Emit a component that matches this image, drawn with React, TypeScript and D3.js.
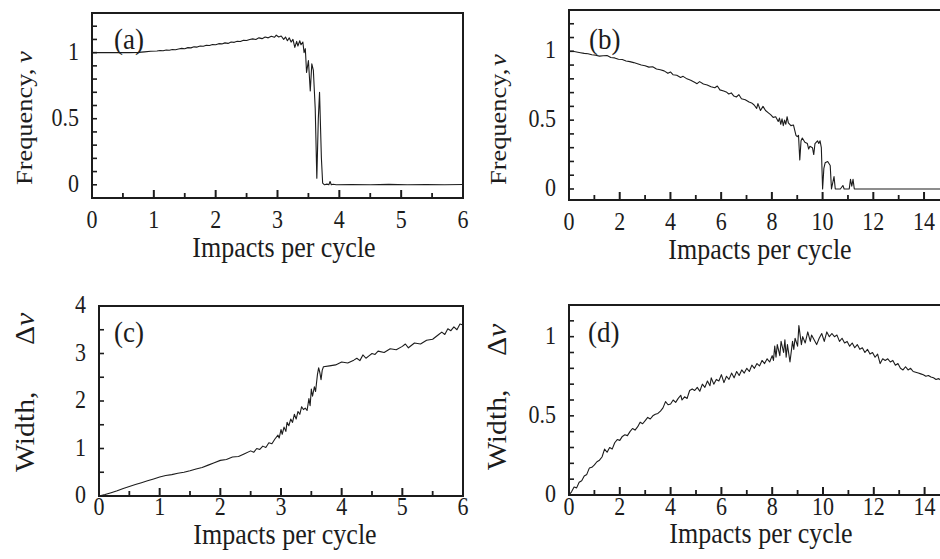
import React from 'react';
import * as d3 from 'd3';

type P = [number, number];

// Panel (a): frequency vs impacts per cycle (0..6)
const freqA: P[] = [
  [0, 1.0], [0.2, 1.0], [0.4, 1.0], [0.6, 1.0], [0.75, 1.002], [0.85, 1.006], [0.95, 1.01], [1.05, 1.012],
  [1.1, 1.016], [1.15, 1.014], [1.2, 1.02], [1.25, 1.018], [1.3, 1.024], [1.35, 1.022], [1.4, 1.028],
  [1.45, 1.032], [1.5, 1.03], [1.55, 1.038], [1.6, 1.036], [1.65, 1.044], [1.7, 1.042], [1.75, 1.05],
  [1.8, 1.048], [1.85, 1.056], [1.9, 1.054], [1.95, 1.062], [2.0, 1.06], [2.05, 1.068], [2.1, 1.066],
  [2.15, 1.074], [2.2, 1.07], [2.25, 1.08], [2.3, 1.078], [2.35, 1.086], [2.4, 1.084], [2.45, 1.094],
  [2.5, 1.092], [2.55, 1.1], [2.6, 1.104], [2.65, 1.1], [2.7, 1.112], [2.75, 1.106], [2.8, 1.118],
  [2.85, 1.112], [2.9, 1.124], [2.95, 1.116], [2.98, 1.132], [3.02, 1.118], [3.06, 1.126], [3.1, 1.1],
  [3.13, 1.118], [3.16, 1.09], [3.19, 1.112], [3.22, 1.08], [3.25, 1.1], [3.28, 1.04], [3.31, 1.085],
  [3.33, 1.05], [3.36, 1.09], [3.38, 1.06], [3.41, 1.08], [3.43, 1.0], [3.45, 1.03], [3.47, 0.85],
  [3.5, 0.94], [3.53, 0.71], [3.555, 0.915], [3.58, 0.865], [3.61, 0.577], [3.636, 0.05], [3.66, 0.5],
  [3.68, 0.7], [3.71, 0.2], [3.73, 0.013], [3.76, 0.0], [3.8, 0.005], [3.83, 0.0], [3.85, 0.025],
  [3.87, 0.0], [3.9, 0.004], [3.95, 0.0], [4.2, 0.002], [4.5, 0.0], [4.8, 0.003], [5.1, 0.0],
  [5.4, 0.002], [5.7, 0.0], [6.0, 0.002],
];

// Panel (b): frequency vs impacts per cycle (0..15)
const freqB: P[] = [
  [0, 1.0], [0.15, 1.0], [0.3, 0.995], [0.45, 0.99], [0.6, 0.985], [0.75, 0.982], [0.9, 0.975],
  [1.05, 0.972], [1.2, 0.965], [1.35, 0.968], [1.5, 0.97], [1.65, 0.955], [1.8, 0.952], [1.95, 0.942],
  [2.1, 0.94], [2.25, 0.93], [2.4, 0.925], [2.55, 0.918], [2.7, 0.91], [2.85, 0.9], [3.0, 0.895],
  [3.15, 0.885], [3.3, 0.888], [3.45, 0.872], [3.6, 0.866], [3.75, 0.858], [3.9, 0.84], [4.0, 0.85],
  [4.1, 0.83], [4.25, 0.826], [4.4, 0.81], [4.5, 0.818], [4.65, 0.8], [4.8, 0.79], [4.95, 0.775],
  [5.05, 0.765], [5.15, 0.78], [5.3, 0.762], [5.45, 0.755], [5.6, 0.742], [5.75, 0.735], [5.85, 0.748],
  [5.95, 0.72], [6.1, 0.712], [6.2, 0.705], [6.3, 0.69], [6.4, 0.698], [6.5, 0.675], [6.6, 0.668],
  [6.7, 0.685], [6.8, 0.655], [6.95, 0.648], [7.1, 0.632], [7.2, 0.625], [7.3, 0.61], [7.4, 0.585],
  [7.45, 0.62], [7.55, 0.57], [7.65, 0.6], [7.75, 0.57], [7.85, 0.555], [7.95, 0.54], [8.05, 0.52],
  [8.15, 0.525], [8.25, 0.49], [8.3, 0.515], [8.35, 0.47], [8.4, 0.51], [8.45, 0.46], [8.5, 0.5],
  [8.55, 0.47], [8.6, 0.525], [8.65, 0.48], [8.75, 0.46], [8.85, 0.465], [8.95, 0.39], [9.0, 0.38],
  [9.05, 0.39], [9.1, 0.21], [9.15, 0.35], [9.2, 0.37], [9.3, 0.34], [9.4, 0.33], [9.45, 0.29],
  [9.5, 0.31], [9.6, 0.3], [9.65, 0.25], [9.7, 0.33], [9.8, 0.35], [9.85, 0.33], [9.9, 0.35],
  [9.95, 0.3], [10.0, 0.0], [10.05, 0.15], [10.1, 0.19], [10.2, 0.2], [10.3, 0.17], [10.35, 0.0],
  [10.45, 0.09], [10.5, 0.0], [10.7, 0.0], [10.8, 0.025], [10.85, 0.0], [11.05, 0.0], [11.1, 0.07],
  [11.15, 0.02], [11.2, 0.07], [11.25, 0.0], [15.0, 0.0],
];

// Panel (c): width vs impacts per cycle (0..6)
const widthC: P[] = [
  [0, 0], [0.1, 0.03], [0.2, 0.07], [0.3, 0.11], [0.4, 0.16], [0.5, 0.2], [0.6, 0.24], [0.7, 0.28],
  [0.8, 0.32], [0.9, 0.36], [1.0, 0.4], [1.1, 0.43], [1.2, 0.45], [1.3, 0.48], [1.4, 0.5], [1.5, 0.53],
  [1.6, 0.57], [1.7, 0.6], [1.8, 0.65], [1.9, 0.7], [2.0, 0.75], [2.1, 0.77], [2.2, 0.82], [2.3, 0.83],
  [2.4, 0.89], [2.5, 0.95], [2.55, 0.92], [2.6, 1.0], [2.65, 0.98], [2.7, 1.05], [2.75, 1.02],
  [2.8, 1.12], [2.85, 1.1], [2.9, 1.2], [2.95, 1.28], [2.97, 1.22], [3.0, 1.4], [3.02, 1.3],
  [3.05, 1.45], [3.08, 1.36], [3.1, 1.55], [3.13, 1.48], [3.16, 1.62], [3.19, 1.55], [3.22, 1.72],
  [3.25, 1.62], [3.28, 1.78], [3.31, 1.72], [3.34, 1.88], [3.37, 1.82], [3.4, 1.85], [3.43, 1.8],
  [3.46, 2.05], [3.48, 1.9], [3.5, 2.25], [3.52, 2.1], [3.55, 2.3], [3.57, 2.2], [3.6, 2.55],
  [3.62, 2.7], [3.64, 2.6], [3.66, 2.45], [3.68, 2.65], [3.7, 2.72], [3.8, 2.74], [3.9, 2.76],
  [4.0, 2.82], [4.1, 2.8], [4.2, 2.86], [4.25, 2.9], [4.3, 2.85], [4.35, 2.97], [4.4, 2.9],
  [4.45, 2.95], [4.5, 3.0], [4.55, 2.98], [4.6, 3.05], [4.7, 3.02], [4.8, 3.1], [4.9, 3.08],
  [5.0, 3.15], [5.05, 3.2], [5.1, 3.12], [5.2, 3.22], [5.3, 3.2], [5.4, 3.28], [5.5, 3.3], [5.6, 3.4],
  [5.65, 3.45], [5.7, 3.4], [5.75, 3.52], [5.8, 3.48], [5.85, 3.56], [5.9, 3.5], [5.95, 3.62], [6.0, 3.6],
];

// Panel (d): width vs impacts per cycle (0..15)
const widthD: P[] = [
  [0, 0], [0.1, 0.02], [0.2, 0.05], [0.3, 0.045], [0.4, 0.08], [0.5, 0.09], [0.6, 0.12], [0.7, 0.13],
  [0.8, 0.17], [0.9, 0.175], [1.0, 0.19], [1.1, 0.21], [1.2, 0.22], [1.3, 0.24], [1.4, 0.29],
  [1.5, 0.27], [1.6, 0.3], [1.7, 0.29], [1.8, 0.33], [1.9, 0.35], [2.0, 0.345], [2.1, 0.37],
  [2.2, 0.38], [2.3, 0.375], [2.4, 0.4], [2.5, 0.42], [2.6, 0.41], [2.7, 0.43], [2.8, 0.46],
  [2.9, 0.45], [3.0, 0.47], [3.1, 0.49], [3.2, 0.48], [3.3, 0.5], [3.4, 0.51], [3.5, 0.515],
  [3.6, 0.53], [3.7, 0.55], [3.8, 0.59], [3.9, 0.57], [4.0, 0.575], [4.1, 0.6], [4.2, 0.585],
  [4.3, 0.61], [4.4, 0.63], [4.45, 0.6], [4.55, 0.62], [4.65, 0.61], [4.75, 0.66], [4.85, 0.67],
  [4.95, 0.66], [5.05, 0.68], [5.15, 0.655], [5.25, 0.7], [5.35, 0.68], [5.45, 0.72], [5.55, 0.69],
  [5.6, 0.74], [5.7, 0.7], [5.8, 0.73], [5.9, 0.72], [6.0, 0.76], [6.1, 0.71], [6.2, 0.75],
  [6.3, 0.73], [6.4, 0.77], [6.5, 0.74], [6.6, 0.78], [6.7, 0.755], [6.8, 0.79], [6.9, 0.77],
  [7.0, 0.8], [7.1, 0.78], [7.2, 0.82], [7.3, 0.8], [7.4, 0.83], [7.5, 0.815], [7.6, 0.85],
  [7.7, 0.83], [7.8, 0.86], [7.9, 0.84], [8.0, 0.88], [8.05, 0.85], [8.1, 0.94], [8.15, 0.87],
  [8.2, 0.95], [8.3, 0.88], [8.35, 0.97], [8.45, 0.9], [8.5, 0.98], [8.55, 0.87], [8.6, 0.95],
  [8.7, 0.84], [8.8, 0.97], [8.85, 0.92], [8.9, 0.99], [9.0, 0.94], [9.05, 1.07], [9.15, 0.95],
  [9.2, 1.0], [9.3, 0.96], [9.4, 1.03], [9.5, 0.97], [9.55, 1.01], [9.65, 0.98], [9.75, 0.95],
  [9.85, 0.99], [9.95, 1.02], [10.05, 0.97], [10.15, 1.03], [10.25, 1.0], [10.35, 1.02],
  [10.45, 1.0], [10.55, 1.01], [10.65, 0.97], [10.75, 0.99], [10.85, 0.96], [10.95, 0.97],
  [11.05, 0.94], [11.15, 0.96], [11.25, 0.93], [11.35, 0.95], [11.45, 0.92], [11.55, 0.93],
  [11.65, 0.9], [11.75, 0.92], [11.85, 0.89], [11.95, 0.9], [12.05, 0.87], [12.15, 0.89],
  [12.25, 0.83], [12.35, 0.86], [12.45, 0.85], [12.55, 0.86], [12.65, 0.84], [12.75, 0.85],
  [12.85, 0.82], [12.95, 0.83], [13.05, 0.8], [13.15, 0.79], [13.25, 0.81], [13.35, 0.79],
  [13.45, 0.8], [13.55, 0.78], [13.65, 0.775], [13.75, 0.77], [13.85, 0.765], [13.95, 0.76],
  [14.05, 0.75], [14.15, 0.755], [14.25, 0.745], [14.35, 0.74], [14.45, 0.73], [14.55, 0.735],
  [14.65, 0.725], [14.8, 0.73],
];

// Tick values
const xMajor6 = [0, 1, 2, 3, 4, 5, 6];
const xMinor6 = [0.5, 1.5, 2.5, 3.5, 4.5, 5.5];
const xMajor15 = [0, 2, 4, 6, 8, 10, 12, 14];
const xMinor15 = [1, 3, 5, 7, 9, 11, 13];
const yFreqLabels = [0, 0.5, 1];
const yFreqTicks = [0, 0.1, 0.2, 0.3, 0.4, 0.5, 0.6, 0.7, 0.8, 0.9, 1, 1.1, 1.2];
const yWidthCLabels = [0, 1, 2, 3, 4];
const yWidthCTicks = [0, 0.5, 1, 1.5, 2, 2.5, 3, 3.5, 4];
const yWidthDLabels = [0, 0.5, 1];
const yWidthDTicks = [0, 0.1, 0.2, 0.3, 0.4, 0.5, 0.6, 0.7, 0.8, 0.9, 1, 1.1];

const FONT = 'Liberation Serif';
const INK = '#1c1c1c';
const K = 1.1;

function T(props: any) {
  const { x, y, size, anchor = 'middle', rotate = false, italic = false, children } = props;
  const tr = `translate(${x},${y}) scale(1,${K})${rotate ? ' rotate(-90)' : ''}`;
  return (
    <text transform={tr} textAnchor={anchor} fill={INK}
      style={{ fontFamily: FONT, fontSize: size + 'px', fontStyle: italic ? 'italic' : 'normal' }}>
      {children}
    </text>
  );
}

function Panel(props: any) {
  const { c } = props;
  const x = d3.scaleLinear().domain(c.xDomain).range([c.left, c.right]);
  const y = d3.scaleLinear().domain(c.yDomain).range([c.bottom, c.top]);
  const line = d3.line<P>().x(d => x(d[0])).y(d => y(d[1]));
  const fmt = (v: number) => String(v);
  return (
    <g>
      <path d={line(c.data) || ''} fill="none" stroke={INK} strokeWidth={1.1} strokeLinejoin="round" />
      <line x1={c.left} x2={c.left} y1={c.top} y2={c.bottom} stroke={INK} strokeWidth={2} />
      <line x1={c.left - 1} x2={c.frameRight + 1} y1={c.bottom} y2={c.bottom} stroke={INK} strokeWidth={2} />
      <line x1={c.left - 1} x2={c.frameRight + 1} y1={c.top} y2={c.top} stroke={INK} strokeWidth={2} />
      {c.showRight && <line x1={c.frameRight} x2={c.frameRight} y1={c.top} y2={c.bottom} stroke={INK} strokeWidth={2} />}
      {c.yTicks.map((v: number) => (
        <line key={'yt' + v} x1={c.left} x2={c.left + 5} y1={y(v)} y2={y(v)} stroke={INK} strokeWidth={1.6} />
      ))}
      {c.yLabels.map((v: number) => (
        <T key={'yl' + v} x={c.left - 13} y={y(v) + 7} size={22} anchor="end">{fmt(v)}</T>
      ))}
      {c.xMajor.map((v: number) => (
        <line key={'xM' + v} x1={x(v)} x2={x(v)} y1={c.bottom} y2={c.bottom - 8} stroke={INK} strokeWidth={2} />
      ))}
      {c.xMinor.map((v: number) => (
        <line key={'xm' + v} x1={x(v)} x2={x(v)} y1={c.bottom} y2={c.bottom - 5} stroke={INK} strokeWidth={1.8} />
      ))}
      {c.xMajor.map((v: number) => (
        <T key={'xl' + v} x={x(v)} y={c.xLabelBase} size={22}>{fmt(v)}</T>
      ))}
      <T x={c.xTitleX} y={c.xTitleBase} size={26}>Impacts per cycle</T>
      <T x={c.yTitleX} y={c.yTitleMainStart} size={c.yTitleSize} anchor="start" rotate>{c.yTitleMain}</T>
      <T x={c.yTitleX} y={c.yTitleSymStart} size={c.yTitleSize} anchor="start" rotate>
        {c.yTitlePre ? <tspan>{c.yTitlePre}</tspan> : null}
        <tspan style={{ fontStyle: 'italic' }}>ν</tspan>
      </T>
      <T x={c.labelX} y={c.labelBase} size={27} anchor="start">{c.label}</T>
    </g>
  );
}

const panels = [
  {
    data: freqA, xDomain: [0, 6], yDomain: [-0.1, 1.3], left: 92, right: 463, frameRight: 463, showRight: true,
    top: 13, bottom: 198, yTicks: yFreqTicks, yLabels: yFreqLabels, xMajor: xMajor6, xMinor: xMinor6,
    xLabelBase: 228, xTitleX: 284, xTitleBase: 257, yTitleX: 32, yTitleMainStart: 185, yTitleSymStart: 63,
    yTitleMain: 'Frequency,', yTitlePre: '', yTitleSize: 24, labelX: 114, labelBase: 49, label: '(a)',
  },
  {
    data: freqB, xDomain: [0, 15], yDomain: [-0.08, 1.3], left: 569, right: 569 + 25.36 * 15, frameRight: 960, showRight: false,
    top: 10, bottom: 200, yTicks: yFreqTicks, yLabels: yFreqLabels, xMajor: xMajor15, xMinor: xMinor15,
    xLabelBase: 230, xTitleX: 760, xTitleBase: 259, yTitleX: 506, yTitleMainStart: 185, yTitleSymStart: 66,
    yTitleMain: 'Frequency,', yTitlePre: '', yTitleSize: 24, labelX: 589, labelBase: 49, label: '(b)',
  },
  {
    data: widthC, xDomain: [0, 6], yDomain: [0, 4], left: 99, right: 463, frameRight: 463, showRight: true,
    top: 306, bottom: 496, yTicks: yWidthCTicks, yLabels: yWidthCLabels, xMajor: xMajor6, xMinor: xMinor6,
    xLabelBase: 515, xTitleX: 285, xTitleBase: 544, yTitleX: 34, yTitleMainStart: 472, yTitleSymStart: 345,
    yTitleMain: 'Width,', yTitlePre: 'Δ', yTitleSize: 27, labelX: 114, labelBase: 342, label: '(c)',
  },
  {
    data: widthD, xDomain: [0, 15], yDomain: [0, 1.2], left: 569, right: 569 + 25.4 * 15, frameRight: 960, showRight: false,
    top: 305, bottom: 495, yTicks: yWidthDTicks, yLabels: yWidthDLabels, xMajor: xMajor15, xMinor: xMinor15,
    xLabelBase: 515, xTitleX: 761, xTitleBase: 543, yTitleX: 506, yTitleMainStart: 470, yTitleSymStart: 356,
    yTitleMain: 'Width,', yTitlePre: 'Δ', yTitleSize: 27, labelX: 588, labelBase: 342, label: '(d)',
  },
];

export default function App() {
  return (
    <svg width={940} height={559} viewBox="0 0 940 559"
      style={{ position: 'absolute', left: 0, top: 0, background: '#fff' }}>
      <rect x={0} y={0} width={940} height={559} fill="#fff" />
      {panels.map((c, i) => <Panel key={i} c={c} />)}
    </svg>
  );
}
